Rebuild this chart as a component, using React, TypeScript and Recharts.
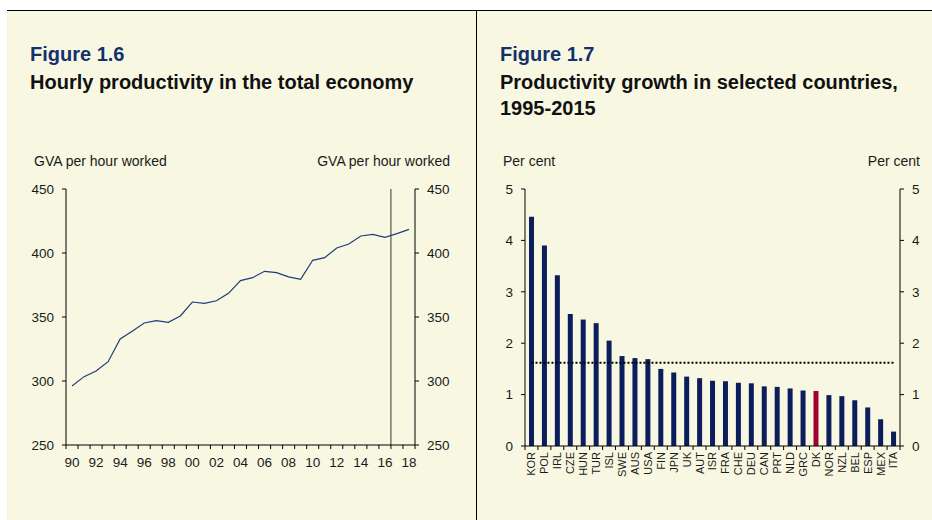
import React from "react";
import {
  LineChart,
  Line,
  XAxis,
  YAxis,
  ReferenceLine,
  ComposedChart,
  Bar,
  Cell,
} from "recharts";

// ---------- Figure 1.6 data ----------
const years = [
  1990, 1991, 1992, 1993, 1994, 1995, 1996, 1997, 1998, 1999, 2000, 2001, 2002,
  2003, 2004, 2005, 2006, 2007, 2008, 2009, 2010, 2011, 2012, 2013, 2014, 2015,
  2016, 2017, 2018,
];
const gvaPerHour = [
  296.1, 303.4, 307.8, 315.1, 332.8, 338.8, 345.3, 347.1, 345.8, 350.8, 361.7,
  360.7, 362.7, 368.5, 378.4, 380.7, 385.7, 384.6, 381.3, 379.4, 394.3, 396.4,
  403.9, 407.0, 413.3, 414.6, 412.3, 415.1, 418.5,
];
const gvaTicks = [250, 300, 350, 400, 450];
const forecastStart = 2016.5;

// ---------- Figure 1.7 data ----------
const countries = [
  "KOR", "POL", "IRL", "CZE", "HUN", "TUR", "ISL", "SWE", "AUS", "USA", "FIN",
  "JPN", "UK", "AUT", "ISR", "FRA", "CHE", "DEU", "CAN", "PRT", "NLD", "GRC",
  "DK", "NOR", "NZL", "BEL", "ESP", "MEX", "ITA",
];
const growth = [
  4.46, 3.9, 3.32, 2.57, 2.46, 2.39, 2.05, 1.75, 1.71, 1.69, 1.5, 1.43, 1.35,
  1.32, 1.27, 1.26, 1.23, 1.22, 1.16, 1.15, 1.12, 1.08, 1.07, 0.99, 0.97, 0.89,
  0.75, 0.52, 0.28,
];
const averageGrowth = 1.62;
const highlightCountry = "DK";
const growthTicks = [0, 1, 2, 3, 4, 5];

// ---------- styling ----------
const FONT = '"Liberation Sans", Arial, Helvetica, sans-serif';
const CREAM = "#F8F8E2";
const NAVY_TITLE = "#14306E";
const BAR_NAVY = "#0B1D5A";
const BAR_RED = "#A3002F";
const LINE_NAVY = "#1F3B7C";
const TEXT = "#1a1a1a";
const TICK_SIZE = 4;
const YEAR_TICK_MARGIN = 8;
const COUNTRY_TICK_MARGIN = 2;

const lineData = years.map((y, i) => ({ year: y, gva: gvaPerHour[i] }));
const barData = countries.map((c, i) => ({
  country: c,
  growth: growth[i],
  avg: averageGrowth,
}));

// Year axis tick: boundary tick marks between years, labels every 2nd year
const YearTick = (props: any) => {
  const { x, y, payload, index, visibleTicksCount, width } = props;
  const n = visibleTicksCount || years.length;
  const half = (width || 349) / n / 2;
  const axisY = y - TICK_SIZE - YEAR_TICK_MARGIN;
  const isLast = index === n - 1;
  const show = payload.value % 2 === 0;
  return (
    <g>
      <line x1={x - half} x2={x - half} y1={axisY} y2={axisY + TICK_SIZE} stroke="#000" />
      {isLast && (
        <line x1={x + half} x2={x + half} y1={axisY} y2={axisY + TICK_SIZE} stroke="#000" />
      )}
      {show && (
        <text
          x={x}
          y={y}
          dy="0.71em"
          textAnchor="middle"
          fontSize={13.5}
          fontFamily={FONT}
          fill={TEXT}
        >
          {String(payload.value).slice(2)}
        </text>
      )}
    </g>
  );
};

const CountryTick = (props: any) => {
  const { x, y, payload, index, visibleTicksCount, width } = props;
  const n = visibleTicksCount || countries.length;
  const half = (width || 375) / n / 2;
  const axisY = y - TICK_SIZE - COUNTRY_TICK_MARGIN;
  const isLast = index === n - 1;
  return (
    <g>
      <line x1={x - half} x2={x - half} y1={axisY} y2={axisY + TICK_SIZE} stroke="#000" />
      {isLast && (
        <line x1={x + half} x2={x + half} y1={axisY} y2={axisY + TICK_SIZE} stroke="#000" />
      )}
      <text
        x={x}
        y={y}
        transform={`rotate(-90 ${x} ${y})`}
        textAnchor="end"
        dy="0.36em"
        fontSize={11}
        fontFamily={FONT}
        fill={TEXT}
      >
        {payload.value}
      </text>
    </g>
  );
};

const tickStyle = { fontSize: 13.5, fill: TEXT, fontFamily: FONT };

export default function App() {
  return (
    <div
      style={{
        position: "absolute",
        left: 0,
        top: 0,
        width: 932,
        height: 520,
        background: "#ffffff",
        fontFamily: FONT,
      }}
    >
      <svg
        width={932}
        height={520}
        style={{ position: "absolute", left: 0, top: 0 }}
      >
        <rect x={7} y={10} width={925} height={510} fill={CREAM} />
        <line x1={7} x2={932} y1={10.5} y2={10.5} stroke="#000" strokeWidth={1} />
        <line x1={476.5} x2={476.5} y1={10} y2={520} stroke="#000" strokeWidth={1} />

        <text x={30} y={61} fontSize={20} fontWeight="bold" fill={NAVY_TITLE} fontFamily={FONT}>
          Figure 1.6
        </text>
        <text x={30} y={89} fontSize={20} fontWeight="bold" fill="#111" fontFamily={FONT}>
          Hourly productivity in the total economy
        </text>
        <text x={34} y={166} fontSize={14} fill={TEXT} fontFamily={FONT}>
          GVA per hour worked
        </text>
        <text x={450} y={166} fontSize={14} fill={TEXT} fontFamily={FONT} textAnchor="end">
          GVA per hour worked
        </text>

        <text x={500} y={61} fontSize={20} fontWeight="bold" fill={NAVY_TITLE} fontFamily={FONT}>
          Figure 1.7
        </text>
        <text x={500} y={89} fontSize={20} fontWeight="bold" fill="#111" fontFamily={FONT}>
          Productivity growth in selected countries,
        </text>
        <text x={500} y={115} fontSize={20} fontWeight="bold" fill="#111" fontFamily={FONT}>
          1995-2015
        </text>
        <text x={503} y={166} fontSize={14} fill={TEXT} fontFamily={FONT}>
          Per cent
        </text>
        <text x={920} y={166} fontSize={14} fill={TEXT} fontFamily={FONT} textAnchor="end">
          Per cent
        </text>
      </svg>

      <div style={{ position: "absolute", left: 0, top: 0 }}>
        <LineChart
          width={476}
          height={520}
          data={lineData}
          margin={{ top: 189, left: 6, right: 6, bottom: 45 }}
          style={{ fontFamily: FONT }}
        >
          <XAxis
            dataKey="year"
            type="number"
            domain={[years[0] - 0.5, years[years.length - 1] + 0.5]}
            ticks={years}
            allowDataOverflow
            interval={0}
            tick={<YearTick />}
            tickLine={false}
            axisLine={{ stroke: "#000" }}
            tickSize={TICK_SIZE}
            tickMargin={YEAR_TICK_MARGIN}
            height={30}
          />
          <YAxis
            yAxisId="l"
            domain={[250, 450]}
            ticks={gvaTicks}
            allowDataOverflow
            width={60}
            tick={tickStyle}
            tickSize={TICK_SIZE}
            tickMargin={8}
            axisLine={{ stroke: "#000" }}
            tickLine={{ stroke: "#000" }}
          />
          <YAxis
            yAxisId="r"
            orientation="right"
            domain={[250, 450]}
            ticks={gvaTicks}
            allowDataOverflow
            width={55}
            tick={tickStyle}
            tickSize={TICK_SIZE}
            tickMargin={8}
            axisLine={{ stroke: "#000" }}
            tickLine={{ stroke: "#000" }}
          />
          <ReferenceLine
            x={forecastStart}
            yAxisId="l"
            stroke="#333"
            strokeWidth={1}
          />
          <Line
            yAxisId="l"
            dataKey="gva"
            stroke={LINE_NAVY}
            strokeWidth={1.2}
            dot={false}
            isAnimationActive={false}
          />
        </LineChart>
      </div>

      <div style={{ position: "absolute", left: 476, top: 0 }}>
        <ComposedChart
          width={456}
          height={520}
          data={barData}
          margin={{ top: 189, left: 5, right: 6, bottom: 44 }}
          style={{ fontFamily: FONT }}
        >
          <XAxis
            dataKey="country"
            interval={0}
            tick={<CountryTick />}
            tickLine={false}
            axisLine={{ stroke: "#000" }}
            tickSize={TICK_SIZE}
            tickMargin={COUNTRY_TICK_MARGIN}
            height={30}
          />
          <YAxis
            yAxisId="l"
            domain={[0, 5]}
            ticks={growthTicks}
            allowDataOverflow
            width={44}
            tick={tickStyle}
            tickSize={TICK_SIZE}
            tickMargin={8}
            axisLine={{ stroke: "#000" }}
            tickLine={{ stroke: "#000" }}
          />
          <YAxis
            yAxisId="r"
            orientation="right"
            domain={[0, 5]}
            ticks={growthTicks}
            allowDataOverflow
            width={26}
            tick={tickStyle}
            tickSize={TICK_SIZE}
            tickMargin={8}
            axisLine={{ stroke: "#000" }}
            tickLine={{ stroke: "#000" }}
          />
          <Bar
            yAxisId="l"
            dataKey="growth"
            barSize={5}
            isAnimationActive={false}
          >
            {barData.map((d) => (
              <Cell
                key={d.country}
                fill={d.country === highlightCountry ? BAR_RED : BAR_NAVY}
              />
            ))}
          </Bar>
          <Line
            yAxisId="l"
            dataKey="avg"
            stroke="#000"
            strokeWidth={2}
            strokeDasharray="2 2"
            dot={false}
            isAnimationActive={false}
          />
        </ComposedChart>
      </div>
    </div>
  );
}
